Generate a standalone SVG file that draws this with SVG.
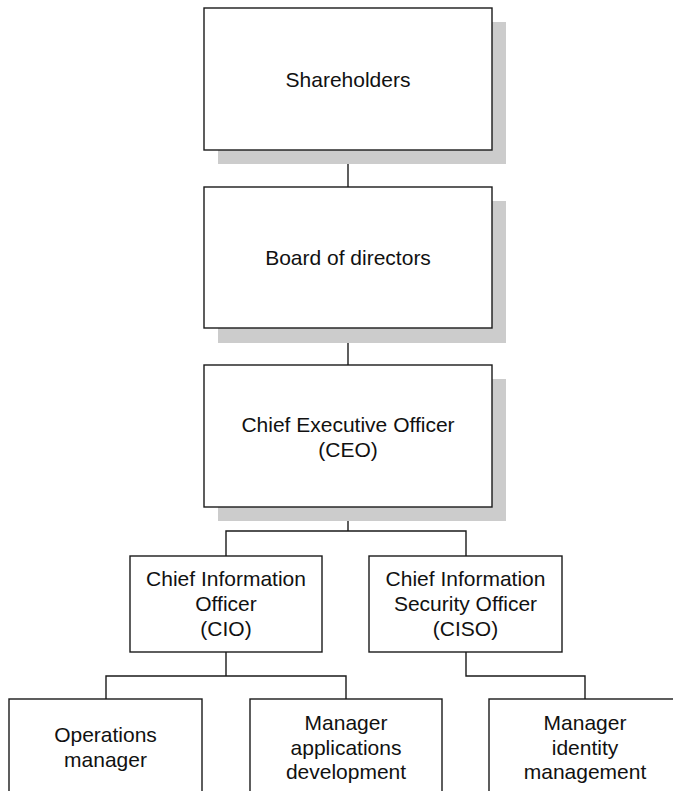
<svg xmlns="http://www.w3.org/2000/svg" width="673" height="791" viewBox="0 0 673 791">
<style>
.box{fill:#fff;stroke:#1a1a1a;stroke-width:1.4}
.sh{fill:#cccccc}
.t{font-family:"Liberation Sans",Arial,Helvetica,sans-serif;font-size:21px;fill:#111;text-anchor:middle}
.c{fill:none;stroke:#1a1a1a;stroke-width:1.4}
</style>
<rect width="673" height="791" fill="#fff"/>
<g id="connectors">
<path class="c" d="M348 150V187"/>
<path class="c" d="M348 328V365"/>
<path class="c" d="M348 507V531M226 556V531H466V556"/>
<path class="c" d="M226 652V676M106 699V676H346V699"/>
<path class="c" d="M466 652V676H585V699"/>
</g>
<g id="shareholders">
<rect class="sh" x="218" y="22" width="288" height="142"/>
<rect class="box" x="204" y="8" width="288" height="142"/>
<text class="t" x="348" y="87">Shareholders</text>
</g>
<g id="board">
<rect class="sh" x="218" y="201" width="288" height="142"/>
<rect class="box" x="204" y="187" width="288" height="141"/>
<text class="t" x="348" y="265">Board of directors</text>
</g>
<g id="ceo">
<rect class="sh" x="218" y="379" width="288" height="142"/>
<rect class="box" x="204" y="365" width="288" height="142"/>
<text class="t" x="348" y="432">Chief Executive Officer</text>
<text class="t" x="348" y="457">(CEO)</text>
</g>
<g id="cio">
<rect class="box" x="130" y="556" width="192" height="96"/>
<text class="t" x="226" y="586">Chief Information</text>
<text class="t" x="226" y="611">Officer</text>
<text class="t" x="226" y="636">(CIO)</text>
</g>
<g id="ciso">
<rect class="box" x="369" y="556" width="193" height="96"/>
<text class="t" x="465.5" y="586">Chief Information</text>
<text class="t" x="465.5" y="611">Security Officer</text>
<text class="t" x="465.5" y="636">(CISO)</text>
</g>
<g id="ops">
<rect class="box" x="9" y="699" width="193" height="110"/>
<text class="t" x="105.5" y="742">Operations</text>
<text class="t" x="105.5" y="767">manager</text>
</g>
<g id="appdev">
<rect class="box" x="250" y="699" width="192" height="110"/>
<text class="t" x="346" y="730">Manager</text>
<text class="t" x="346" y="755">applications</text>
<text class="t" x="346" y="779">development</text>
</g>
<g id="identity">
<rect class="box" x="489" y="699" width="192" height="110"/>
<text class="t" x="585" y="730">Manager</text>
<text class="t" x="585" y="755">identity</text>
<text class="t" x="585" y="779">management</text>
</g>
</svg>
